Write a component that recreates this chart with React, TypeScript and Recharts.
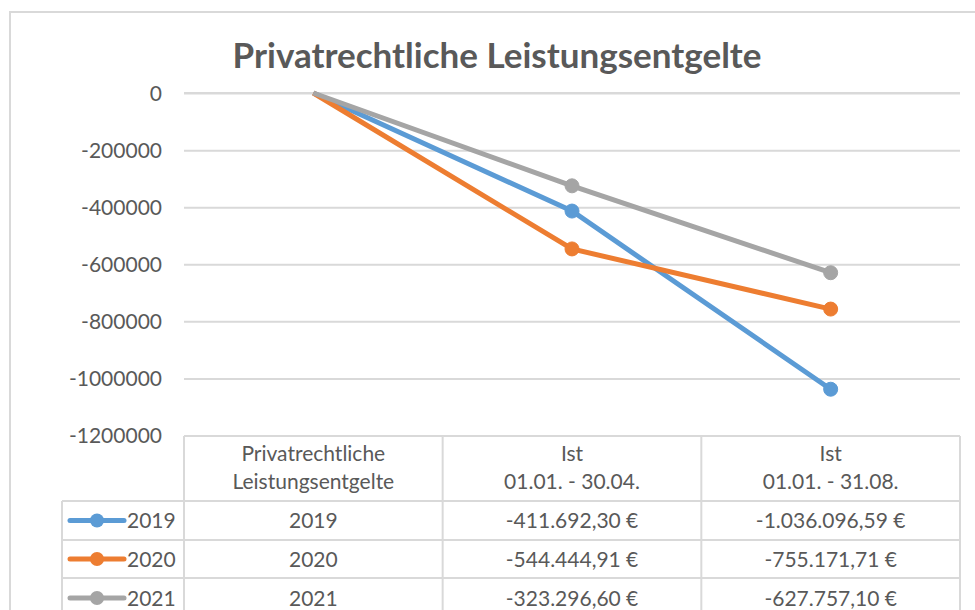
import React from "react";
import { LineChart, Line, XAxis, YAxis, CartesianGrid } from "recharts";

const categories = ["Privatrechtliche Leistungsentgelte", "Ist 01.01. - 30.04.", "Ist 01.01. - 31.08."];
const headerLines = [["Privatrechtliche", "Leistungsentgelte"], ["Ist", "01.01. - 30.04."], ["Ist", "01.01. - 31.08."]];
const seriesNames = ["2019", "2020", "2021"];
const values2019 = [2019, -411692.3, -1036096.59];
const values2020 = [2020, -544444.91, -755171.71];
const values2021 = [2021, -323296.6, -627757.1];
const tableText2019 = ["2019", "-411.692,30\u202F€", "-1.036.096,59\u00A0€"];
const tableText2020 = ["2020", "-544.444,91\u202F€", "-755.171,71\u202F€"];
const tableText2021 = ["2021", "-323.296,60\u202F€", "-627.757,10\u202F€"];
const yTicks = [0, -200000, -400000, -600000, -800000, -1000000, -1200000];
const colors = ["#5B9BD5", "#ED7D31", "#A5A5A5"];

const data = categories.map((c, i) => ({
  cat: c,
  s2019: values2019[i],
  s2020: values2020[i],
  s2021: values2021[i],
}));
const seriesKeys = ["s2019", "s2020", "s2021"];
const tableTexts = [tableText2019, tableText2020, tableText2021];

const FONT = "Lato, 'Open Sans', sans-serif";
const TEXT = "#595959";
const GRID = "#d9d9d9";

const PLOT_L = 184;
const PLOT_R = 960;
const PLOT_T = 93;
const PLOT_B = 436;
const COL_W = (PLOT_R - PLOT_L) / 3;
const LEG_L = 62;
const ROW_Y = [436, 501, 540, 578, 618];

const makeDot = (color: string) => (props: any) => {
  const { cx, cy, index } = props;
  if (index === 0) return <g key={`d${index}`} />;
  return <circle key={`d${index}`} cx={cx} cy={cy} r={7} fill={color} stroke={color} />;
};

export default function App() {
  return (
    <div style={{ position: "absolute", left: 0, top: 0, width: 975, height: 610, background: "#fff", overflow: "hidden" }}>
      <LineChart
        width={975}
        height={610}
        data={data}
        margin={{ top: PLOT_T, right: 975 - PLOT_R, bottom: 610 - PLOT_B, left: PLOT_L - 120 }}
      >
        <CartesianGrid horizontal vertical={false} stroke={GRID} strokeWidth={2} />
        <XAxis dataKey="cat" hide height={0} padding={{ left: COL_W / 2, right: COL_W / 2 }} />
        <YAxis
          width={120}
          domain={[-1200000, 0]}
          ticks={yTicks}
          interval={0}
          axisLine={false}
          tickLine={false}
          tickSize={0}
          tickMargin={22}
          tick={{ fill: TEXT, fontSize: 21, fontFamily: FONT }}
        />
        {seriesKeys.map((k, i) => (
          <Line
            key={k}
            dataKey={k}
            name={seriesNames[i]}
            stroke={colors[i]}
            strokeWidth={5}
            dot={makeDot(colors[i])}
            activeDot={false}
            isAnimationActive={false}
          />
        ))}
      </LineChart>
      <svg width={975} height={610} style={{ position: "absolute", left: 0, top: 0, pointerEvents: "none" }}>
        <rect x={10} y={12} width={1000} height={700} fill="none" stroke={GRID} strokeWidth={2} />
        <text x={497} y={68} textAnchor="middle" fill={TEXT} fontSize={35} fontWeight="bold" fontFamily={FONT}>
          Privatrechtliche Leistungsentgelte
        </text>
        <line x1={PLOT_L} y1={ROW_Y[0]} x2={PLOT_R} y2={ROW_Y[0]} stroke={GRID} strokeWidth={2} />
        {ROW_Y.slice(1).map((y, i) => (
          <line key={`h${i}`} x1={LEG_L} y1={y} x2={PLOT_R} y2={y} stroke={GRID} strokeWidth={2} />
        ))}
        {[0, 1, 2, 3].map((c) => (
          <line key={`v${c}`} x1={PLOT_L + c * COL_W} y1={ROW_Y[0]} x2={PLOT_L + c * COL_W} y2={620} stroke={GRID} strokeWidth={2} />
        ))}
        <line x1={LEG_L} y1={ROW_Y[1]} x2={LEG_L} y2={620} stroke={GRID} strokeWidth={2} />
        {headerLines.map((lines, c) =>
          lines.map((t, j) => (
            <text key={`hd${c}${j}`} x={PLOT_L + (c + 0.5) * COL_W} y={461 + j * 28} textAnchor="middle" fill={TEXT} fontSize={21} fontFamily={FONT}>
              {t}
            </text>
          ))
        )}
        {tableTexts.map((row, r) => {
          const cy = (ROW_Y[r + 1] + ROW_Y[r + 2]) / 2;
          return (
            <g key={`r${r}`}>
              <line x1={70} y1={cy} x2={124} y2={cy} stroke={colors[r]} strokeWidth={5} strokeLinecap="round" />
              <circle cx={97} cy={cy} r={7} fill={colors[r]} />
              <text x={127} y={cy + 7.5} fill={TEXT} fontSize={21} fontFamily={FONT}>
                {seriesNames[r]}
              </text>
              {row.map((t, c) => (
                <text key={`c${c}`} x={PLOT_L + (c + 0.5) * COL_W} y={cy + 7.5} textAnchor="middle" fill={TEXT} fontSize={21} fontFamily={FONT}>
                  {t}
                </text>
              ))}
            </g>
          );
        })}
      </svg>
    </div>
  );
}
